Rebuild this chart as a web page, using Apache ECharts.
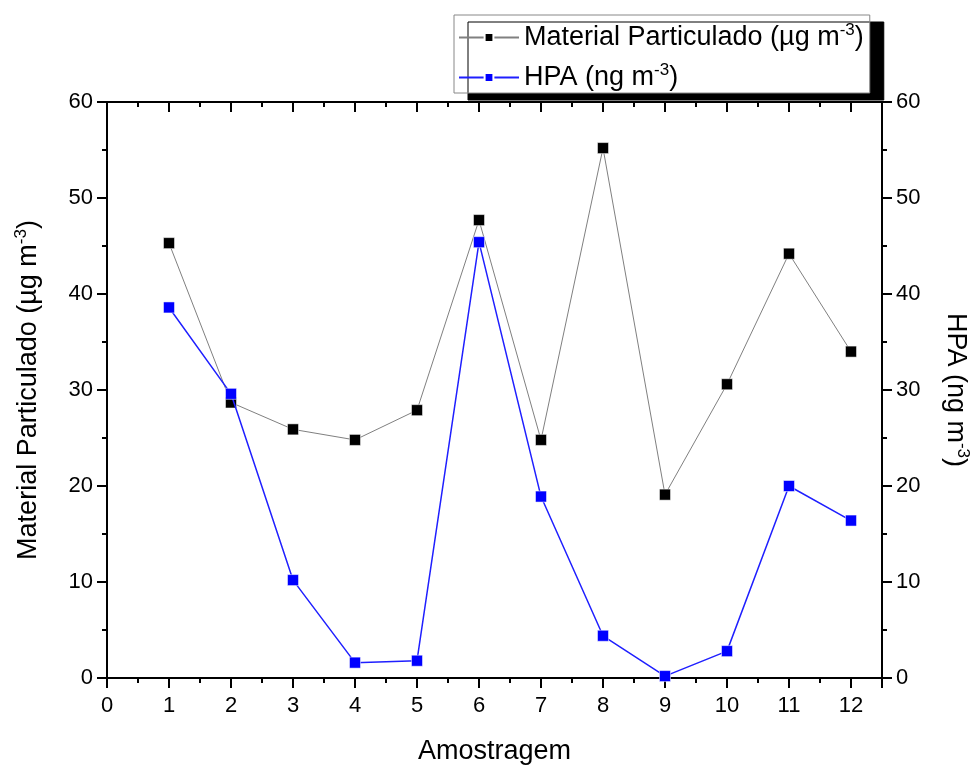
<!DOCTYPE html>
<html>
<head>
<meta charset="utf-8">
<script src="https://cdn.jsdelivr.net/npm/echarts@6/dist/echarts.min.js"></script>
<style>
  html, body { margin: 0; padding: 0; background: #fff; }
  #chart { width: 973px; height: 765px; }
</style>
</head>
<body>
<div id="chart"></div>
<script>
// amostras 1..12
const amostras = [1, 2, 3, 4, 5, 6, 7, 8, 9, 10, 11, 12]
const materialParticulado = [45.3, 28.7, 25.9, 24.8, 27.9, 47.7, 24.8, 55.2, 19.1, 30.6, 44.2, 34.0]
const hpa = [38.6, 29.6, 10.2, 1.6, 1.8, 45.4, 18.9, 4.4, 0.2, 2.8, 20.0, 16.4]

const font = 'Liberation Sans, Arial, sans-serif'
const rich = {
  sup: { fontSize: 17, fontFamily: font, color: '#000', padding: [0, 0, 14, 0] }
}

function pairs (ys) {
  return amostras.map((x, i) => [x, ys[i]])
}

const xBase = {
  type: 'value', min: 0, max: 12.5, gridIndex: 0,
  splitLine: { show: false },
  axisLine: { show: false, onZero: false, lineStyle: { color: '#000', width: 2 } },
  axisLabel: { show: false }
}

const yBase = {
  type: 'value', min: 0, max: 60, interval: 10,
  splitLine: { show: false },
  axisLine: { show: true, onZero: false, lineStyle: { color: '#000', width: 2 } },
  axisTick: { show: true, inside: false, length: 10, lineStyle: { color: '#000', width: 2 } },
  minorTick: { show: true, splitNumber: 2, length: 5, lineStyle: { color: '#000', width: 2 } },
  axisLabel: { show: true, margin: 14, fontSize: 22, fontFamily: font, color: '#000' },
  nameLocation: 'middle',
  nameTextStyle: { fontSize: 27, fontFamily: font, color: '#000', rich: rich }
}

const option = {
  backgroundColor: '#fff',
  animation: false,
  grid: { left: 107, right: 91, top: 102, bottom: 87, containLabel: false, outerBoundsMode: 'none' },
  legend: {
    orient: 'vertical',
    left: 454,
    top: 15,
    padding: [7, 6, 2, 4],
    itemGap: 11,
    itemWidth: 60,
    itemHeight: 11,
    backgroundColor: '#fff',
    borderColor: '#888',
    borderWidth: 1,
    shadowColor: '#000',
    shadowBlur: 0,
    shadowOffsetX: 14,
    shadowOffsetY: 7,
    textStyle: { fontSize: 27, fontFamily: font, color: '#000', rich: rich },
    formatter: function (name) {
      if (name === 'mp') return 'Material Particulado (µg m{sup|-3})'
      return 'HPA (ng m{sup|-3})'
    },
    data: ['mp', 'hpa']
  },
  xAxis: [
    Object.assign({}, xBase, {
      position: 'bottom', interval: 1,
      axisLine: { show: true, onZero: false, lineStyle: { color: '#000', width: 2 } },
      axisTick: { show: true, inside: false, length: 10, lineStyle: { color: '#000', width: 2 } },
      axisLabel: {
        show: true, margin: 17, fontSize: 22, fontFamily: font, color: '#000',
        formatter: v => (Number.isInteger(v) ? String(v) : '')
      },
      name: 'Amostragem',
      nameLocation: 'middle',
      nameGap: 60,
      nameTextStyle: { fontSize: 27, fontFamily: font, color: '#000' }
    }),
    Object.assign({}, xBase, {
      position: 'bottom', interval: 0.5,
      axisTick: { show: true, inside: false, length: 5, lineStyle: { color: '#000', width: 2 } }
    }),
    Object.assign({}, xBase, {
      position: 'top', interval: 1,
      axisLine: { show: true, onZero: false, lineStyle: { color: '#000', width: 2 } },
      axisTick: { show: true, inside: true, length: 10, lineStyle: { color: '#000', width: 2 } }
    }),
    Object.assign({}, xBase, {
      position: 'top', interval: 0.5,
      axisTick: { show: true, inside: true, length: 5, lineStyle: { color: '#000', width: 2 } }
    })
  ],
  yAxis: [
    Object.assign({}, yBase, {
      position: 'left',
      name: 'Material Particulado (µg m{sup|-3})',
      nameGap: 63
    }),
    Object.assign({}, yBase, {
      position: 'right',
      name: 'HPA (ng m{sup|-3})',
      nameGap: 58,
      nameRotate: -90
    })
  ],
  series: [
    {
      name: 'mp',
      type: 'line',
      xAxisIndex: 0,
      yAxisIndex: 0,
      data: pairs(materialParticulado),
      symbol: 'rect',
      symbolSize: 11,
      itemStyle: { color: '#000', borderColor: '#fff', borderWidth: 0.5 },
      lineStyle: { color: '#808080', width: 1 },
      z: 2
    },
    {
      name: 'hpa',
      type: 'line',
      xAxisIndex: 0,
      yAxisIndex: 1,
      data: pairs(hpa),
      symbol: 'rect',
      symbolSize: 11,
      itemStyle: { color: '#0000ff', borderColor: '#fff', borderWidth: 0.5 },
      lineStyle: { color: '#1f1fff', width: 1.5 },
      z: 3
    }
  ]
}

const myChart = echarts.init(document.getElementById('chart'))
myChart.setOption(option)
</script>
</body>
</html>
